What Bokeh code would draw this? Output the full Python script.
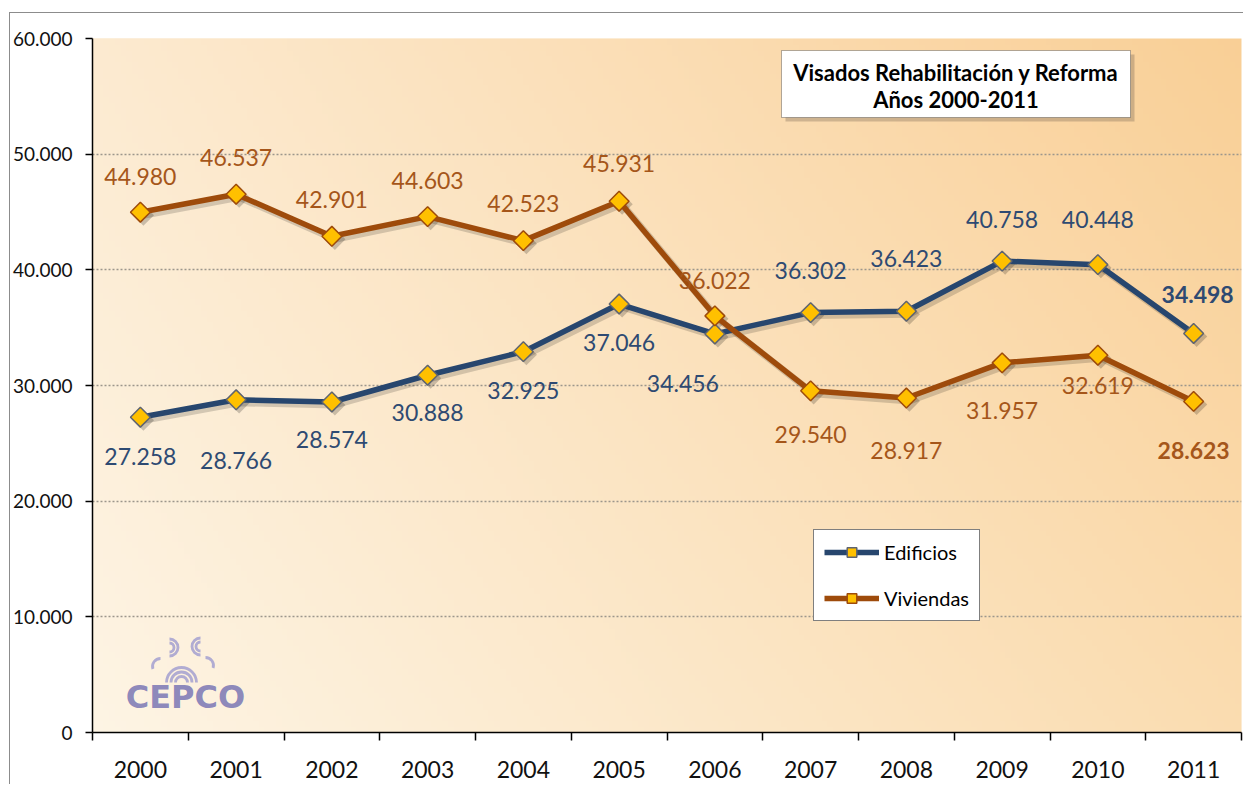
import numpy as np
from bokeh.plotting import figure
from bokeh.models import (ColumnDataSource, Range1d, FixedTicker, Legend, LegendItem,
                          Label, BoxAnnotation)
from bokeh.core.properties import value
from bokeh.embed import file_html
from bokeh.resources import INLINE

# ---------------- data ----------------
years = [2000, 2001, 2002, 2003, 2004, 2005, 2006, 2007, 2008, 2009, 2010, 2011]
edificios = [27258, 28766, 28574, 30888, 32925, 37046, 34456, 36302, 36423, 40758, 40448, 34498]
viviendas = [44980, 46537, 42901, 44603, 42523, 45931, 36022, 29540, 28917, 31957, 32619, 28623]
series_names = ["Edificios", "Viviendas"]
y_ticks = [0, 10000, 20000, 30000, 40000, 50000, 60000]
title_lines = ["Visados Rehabilitación y Reforma", "Años 2000-2011"]
logo_text = "CEPCO"

# ---------------- label placement (pixels) ----------------
edif_dy = [39, 61, 38, 37, 39, 38, 50, -42, -53, -42, -45, -39]
edif_dx = [0, 0, 0, 0, 0, 0, -32, 0, 0, 0, 0, 4]
viv_dy = [-36, -37, -37, -36, -37, -38, -35, 44, 52, 48, 30, 49]
viv_dx = [0] * 12

def fmt(v):
    return f"{v:,}".replace(",", ".")

# ---------------- geometry ----------------
W, H = 1243, 784
BL, BT, BR, BB = 92, 38, 2, 52
FW, FH = W - BL - BR, H - BT - BB
FX0, FY0 = BL, BT + FH  # frame left / bottom in canvas px
YMAX = y_ticks[-1]
n = len(years)

def px(sx):
    return sx - FX0

def py(sy):
    return FY0 - sy

FONT = "Lato"
C_EDIF = "#27466E"
C_VIV = "#9E4B0B"
C_EDIF_T = "#2E4A72"
C_VIV_T = "#A5561A"

p = figure(width=W, height=H, output_backend="svg", toolbar_location=None,
           x_range=Range1d(-0.5, n - 0.5), y_range=Range1d(0, YMAX),
           min_border_left=BL, min_border_right=BR, min_border_top=BT, min_border_bottom=BB)
p.outline_line_color = None
p.border_fill_color = "white"
p.border_fill_alpha = 0
p.background_fill_color = "#FBE4C0"
# outer chart border (left / top edges) drawn as host-element background
p.styles = {
    "background": ("linear-gradient(#8C8C8C,#8C8C8C) 9px 12px / 1px 100% no-repeat, "
                   "linear-gradient(#8C8C8C,#8C8C8C) 9px 12px / 100% 1px no-repeat, white"),
}

# extra ranges: pixel-space and shadow offsets
sh = 3
dx_sh = sh * (n / FW)
dy_sh = sh * (YMAX / FH)
p.extra_x_ranges = {"px": Range1d(0, FW), "shx": Range1d(-0.5 - dx_sh, n - 0.5 - dx_sh)}
p.extra_y_ranges = {"px": Range1d(0, FH), "shy": Range1d(dy_sh, YMAX + dy_sh)}

# ---------------- gradient background ----------------
GH, GW = 120, 200
c_bl = np.array([0xFD, 0xF4, 0xE4], float)
c_tl = np.array([0xFC, 0xEA, 0xD0], float)
c_tr = np.array([0xF9, 0xCF, 0x96], float)
c_br = np.array([0xFA, 0xDC, 0xB0], float)
u = np.linspace(0, 1, GW)[None, :, None]
v = np.linspace(0, 1, GH)[:, None, None]
col = (c_bl * (1 - u) * (1 - v) + c_br * u * (1 - v) + c_tl * (1 - u) * v + c_tr * u * v)
img = np.empty((GH, GW), dtype=np.uint32)
view = img.view(dtype=np.uint8).reshape((GH, GW, 4))
view[:, :, :3] = np.round(col).astype(np.uint8)
view[:, :, 3] = 255
bg = p.image_rgba(image=[img], x=0, y=0, dw=FW, dh=FH, x_range_name="px", y_range_name="px")
bg.level = "image"

# ---------------- axes ----------------
p.xgrid.visible = False
p.yaxis.ticker = FixedTicker(ticks=y_ticks)
p.yaxis.major_label_overrides = {t: fmt(t) for t in y_ticks}
p.yaxis.axis_line_color = "black"
p.yaxis.axis_line_width = 1.5
p.yaxis.major_tick_line_color = "black"
p.yaxis.major_tick_line_width = 1.5
p.yaxis.major_tick_out = 7
p.yaxis.major_tick_in = 0
p.yaxis.minor_tick_line_color = None
p.yaxis.major_label_standoff = 13
p.yaxis.major_label_text_font = FONT
p.yaxis.major_label_text_font_size = "19px"
p.yaxis.major_label_text_color = "#111111"

p.xaxis.ticker = FixedTicker(ticks=list(range(n)), minor_ticks=[i - 0.5 for i in range(n + 1)])
p.xaxis.major_label_overrides = {i: str(y) for i, y in enumerate(years)}
p.xaxis.axis_line_color = "black"
p.xaxis.axis_line_width = 1.5
p.xaxis.major_tick_line_color = None
p.xaxis.major_tick_out = 0
p.xaxis.major_tick_in = 0
p.xaxis.minor_tick_line_color = "black"
p.xaxis.minor_tick_line_width = 1.5
p.xaxis.minor_tick_out = 8
p.xaxis.minor_tick_in = 0
p.xaxis.major_label_standoff = 20
p.xaxis.major_label_text_font = FONT
p.xaxis.major_label_text_font_size = "23px"
p.xaxis.major_label_text_color = "#111111"

p.ygrid.grid_line_color = "#9C968C"
p.ygrid.grid_line_width = 1.5
p.ygrid.grid_line_dash = "2 2"

# ---------------- logo ----------------
logo_col = "#A3A0D0"
arcs = [
    (181, 682, [6, 10.5, 15], 0, np.pi),
    (169, 647, [4.5, 8.5], -np.pi / 2, np.pi / 2),
    (200, 646, [4.5, 8.5], np.pi / 2, np.pi * 1.5),
    (160, 666, [8], np.pi / 2, np.pi * 1.1),
    (205, 665, [8], -0.1 * np.pi, np.pi / 2),
]
for cx, cy, rads, a0, a1 in arcs:
    for r in rads:
        p.arc(x=px(cx), y=py(cy), radius=r, radius_units="screen", start_angle=a0, end_angle=a1,
              line_color=logo_col, line_width=2.8, line_alpha=0.85,
              x_range_name="px", y_range_name="px")
p.add_layout(Label(x=px(185), y=py(696), x_units="screen", y_units="screen", text=logo_text,
                   text_align="center", text_baseline="middle", text_font="DejaVu Sans",
                   text_font_style="bold", text_font_size="32px", text_color="#7F7BB6",
                   text_alpha=0.9))

# ---------------- series ----------------
xs = list(range(n))
src_e = ColumnDataSource(dict(x=xs, y=edificios))
src_v = ColumnDataSource(dict(x=xs, y=viviendas))

for src in (src_e, src_v):
    p.line("x", "y", source=src, line_color="black", line_alpha=0.16, line_width=7,
           x_range_name="shx", y_range_name="shy")
    p.scatter("x", "y", source=src, marker="square", angle=np.pi / 4, size=15,
              fill_color="black", fill_alpha=0.2, line_color=None,
              x_range_name="shx", y_range_name="shy")

l_e = p.line("x", "y", source=src_e, line_color=C_EDIF, line_width=5.5)
l_v = p.line("x", "y", source=src_v, line_color=C_VIV, line_width=5.5)
m_e = p.scatter("x", "y", source=src_e, marker="square", angle=np.pi / 4, size=14,
                fill_color="#FFC000", line_color="#5F6470", line_width=1.5)
m_v = p.scatter("x", "y", source=src_v, marker="square", angle=np.pi / 4, size=14,
                fill_color="#FFC000", line_color=C_VIV, line_width=1.5)

# data labels
for vals, dy, dx, colr in ((edificios, edif_dy, edif_dx, C_EDIF_T), (viviendas, viv_dy, viv_dx, C_VIV_T)):
    styles = ["normal"] * (n - 1) + ["bold"]
    lsrc = ColumnDataSource(dict(x=xs, y=vals, t=[fmt(v) for v in vals], dy=dy, dx=dx, st=styles))
    p.text("x", "y", text="t", source=lsrc, x_offset="dx", y_offset="dy",
           text_align="center", text_baseline="middle", text_font=value(FONT),
           text_font_size="23px", text_color=colr, text_font_style="st")

# ---------------- title box ----------------
tl, tr_, tt, tb = 781, 1130, 50, 117
p.add_layout(BoxAnnotation(left=px(tl) + 4, right=px(tr_) + 4, top=py(tt) - 4, bottom=py(tb) - 4,
                           left_units="screen", right_units="screen", top_units="screen",
                           bottom_units="screen", fill_color="#7a6a55", fill_alpha=0.35,
                           line_color=None))
p.add_layout(BoxAnnotation(left=px(tl), right=px(tr_), top=py(tt), bottom=py(tb),
                           left_units="screen", right_units="screen", top_units="screen",
                           bottom_units="screen", fill_color="white", fill_alpha=1,
                           line_color="black", line_width=1))
for txt, sy in zip(title_lines, (72, 99)):
    p.add_layout(Label(x=px((tl + tr_) / 2), y=py(sy), x_units="screen", y_units="screen",
                       text=txt, text_align="center", text_baseline="middle",
                       text_font=FONT, text_font_style="bold", text_font_size="22px",
                       text_color="black"))

# ---------------- legend ----------------
legend = Legend(items=[LegendItem(label=series_names[0], renderers=[l_e, m_e]),
                       LegendItem(label=series_names[1], renderers=[l_v, m_v])],
                location=(813 - FX0, FY0 - 621), orientation="vertical",
                border_line_color="black", border_line_width=1,
                background_fill_color="white", background_fill_alpha=1,
                padding=10, spacing=22, margin=0, glyph_width=55, glyph_height=24,
                label_height=24, label_standoff=5,
                label_text_font=FONT, label_text_font_size="20px", label_text_color="black")
p.add_layout(legend)

open("out.html", "w").write(file_html(p, INLINE))
